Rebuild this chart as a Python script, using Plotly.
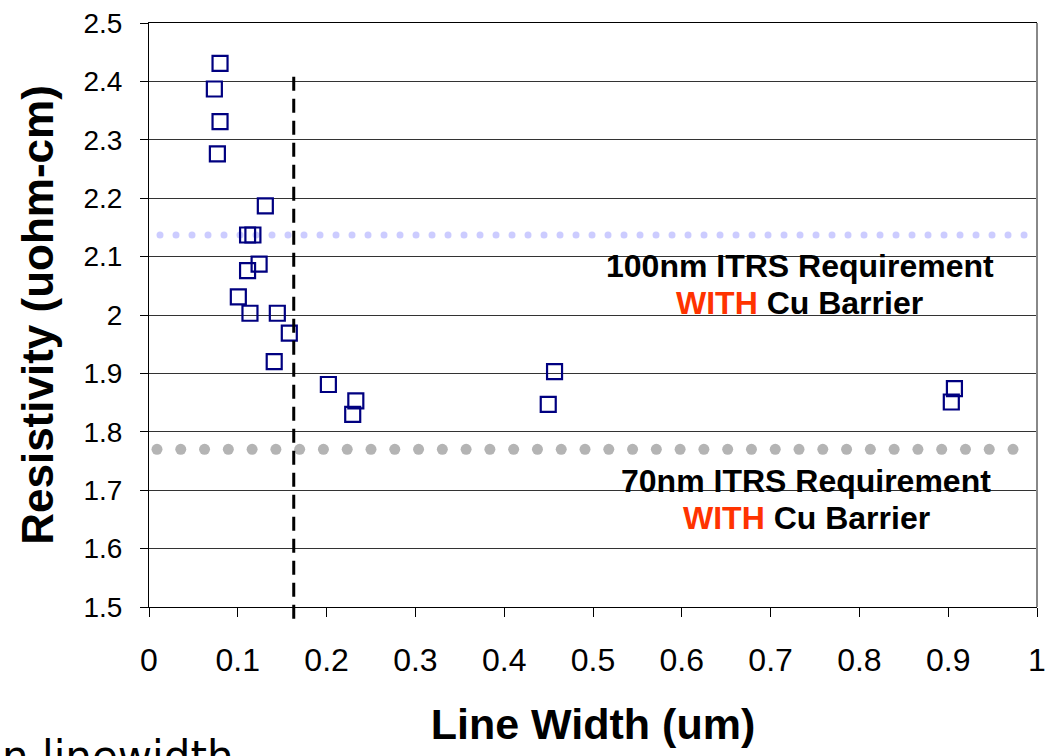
import numpy as np
import plotly.graph_objects as go

# Data
line_width_um = [0.080, 0.0736, 0.080, 0.077, 0.131, 0.111, 0.117, 0.124, 0.111, 0.1006,
                 0.1137, 0.1445, 0.158, 0.141, 0.2020, 0.2329, 0.2294, 0.4567, 0.4496,
                 0.907, 0.9035]
resistivity = [2.431, 2.387, 2.331, 2.276, 2.187, 2.137, 2.137, 2.087, 2.076, 2.031,
               2.003, 2.003, 1.969, 1.920, 1.881, 1.853, 1.830, 1.903, 1.847,
               1.874, 1.851]

req_100nm = 2.137
req_70nm = 1.770
cutoff_width = 0.163
cutoff_top = 2.41

x_ticks = [0, 0.1, 0.2, 0.3, 0.4, 0.5, 0.6, 0.7, 0.8, 0.9, 1]
x_ticklabels = ["0", "0.1", "0.2", "0.3", "0.4", "0.5", "0.6", "0.7", "0.8", "0.9", "1"]
y_ticks = [1.5, 1.6, 1.7, 1.8, 1.9, 2.0, 2.1, 2.2, 2.3, 2.4, 2.5]
y_ticklabels = ["1.5", "1.6", "1.7", "1.8", "1.9", "2", "2.1", "2.2", "2.3", "2.4", "2.5"]

x_range = [0, 1]
y_range = [1.5, 2.5]

FONT = "Liberation Sans, Arial, sans-serif"
RED = "#FF3300"

fig = go.Figure()

# dotted requirement lines (round dots)
blue_x = np.linspace(0.0124, 0.9854, 55)
fig.add_trace(go.Scatter(x=blue_x, y=[req_100nm] * len(blue_x), mode="markers",
                         marker=dict(symbol="circle", size=7, color="#CCCCFF", line=dict(width=0)),
                         hoverinfo="skip", showlegend=False))
gray_x = np.linspace(0.009, 0.973, 37)
fig.add_trace(go.Scatter(x=gray_x, y=[req_70nm] * len(gray_x), mode="markers",
                         marker=dict(symbol="circle", size=11, color="#B4B4B4", line=dict(width=0)),
                         hoverinfo="skip", showlegend=False))

fig.add_trace(go.Scatter(x=line_width_um, y=resistivity, mode="markers",
                         marker=dict(symbol="square-open", size=15, color="#000080",
                                     line=dict(width=2.2, color="#000080")),
                         showlegend=False))

# vertical dashed line (extends slightly below the axis)
fig.add_shape(type="line", xref="x", yref="paper",
              x0=cutoff_width, x1=cutoff_width,
              y0=-0.02, y1=(cutoff_top - y_range[0]) / (y_range[1] - y_range[0]),
              line=dict(color="black", width=3, dash="14px,8px"), layer="above")

# right border (gray)
fig.add_shape(type="line", xref="paper", yref="paper", x0=1, x1=1, y0=0, y1=1,
              line=dict(color="#888888", width=2), layer="above")

label_font = dict(family=FONT, size=32, color="black", weight="bold")
fig.add_annotation(x=0.733, y=2.084, xref="x", yref="y", showarrow=False,
                   text="100nm ITRS Requirement", font=label_font)
fig.add_annotation(x=0.733, y=2.021, xref="x", yref="y", showarrow=False,
                   text=f"<span style='color:{RED}'>WITH</span> Cu Barrier", font=label_font)
fig.add_annotation(x=0.740, y=1.716, xref="x", yref="y", showarrow=False,
                   text="70nm ITRS Requirement", font=label_font)
fig.add_annotation(x=0.740, y=1.652, xref="x", yref="y", showarrow=False,
                   text=f"<span style='color:{RED}'>WITH</span> Cu Barrier", font=label_font)

# partially visible text at the bottom-left
fig.add_annotation(x=-0.1678, y=-0.21, xref="paper", yref="paper", showarrow=False,
                   xanchor="left", yanchor="top", text="n linewidth",
                   font=dict(family="DejaVu Sans, sans-serif", size=42, color="black"))

fig.update_layout(
    width=1051, height=756, autosize=False,
    margin=dict(l=149, r=14, t=23, b=149),
    plot_bgcolor="white", paper_bgcolor="white",
    font=dict(family=FONT, color="black"),
    xaxis=dict(range=x_range, tickvals=x_ticks, ticktext=x_ticklabels, automargin=False,
               showgrid=False, zeroline=False, showline=True, linecolor="black", linewidth=1,
               mirror=True, ticks="outside", ticklen=9, tickcolor="black", tickwidth=1,
               tickfont=dict(family=FONT, size=32, color="black"), ticklabelstandoff=16,
               title=dict(text="Line Width (um)", standoff=31,
                          font=dict(family=FONT, size=43, color="black", weight="bold"))),
    yaxis=dict(range=y_range, tickvals=y_ticks, ticktext=y_ticklabels, automargin=False,
               showgrid=True, gridcolor="#333333", gridwidth=1, zeroline=False,
               showline=True, linecolor="black", linewidth=1,
               ticks="outside", ticklen=8, tickcolor="black", tickwidth=1,
               tickfont=dict(family=FONT, size=28, color="black"), ticklabelstandoff=12,
               title=dict(text="Resistivity (uohm-cm)", standoff=16,
                          font=dict(family=FONT, size=44, color="black", weight="bold"))),
)

fig.write_html("out.html", config={"displayModeBar": False},
               post_script="document.body.style.margin='0';document.body.style.overflow='hidden';")
